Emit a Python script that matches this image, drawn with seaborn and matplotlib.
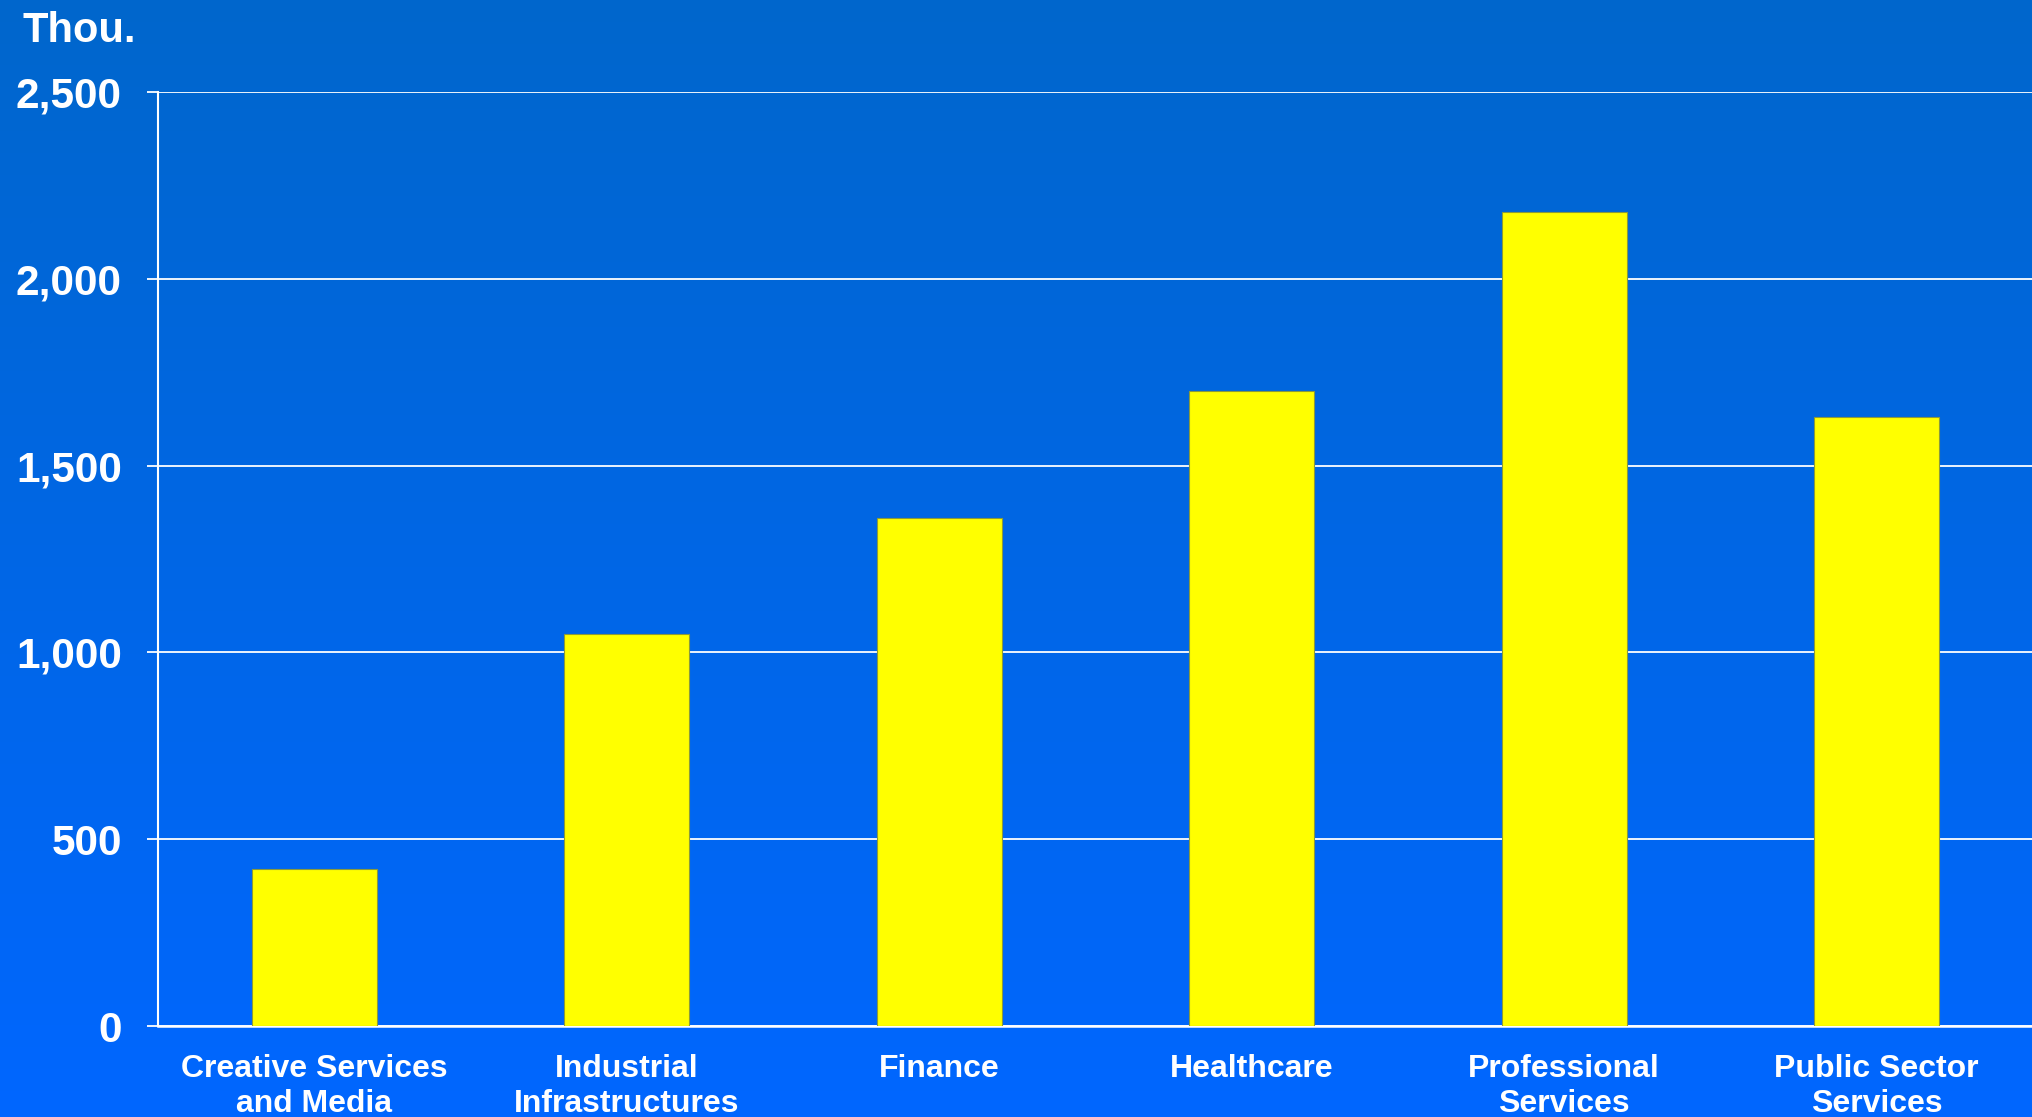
import numpy as np
import pandas as pd
import matplotlib
matplotlib.use("Agg")
import matplotlib.pyplot as plt
from matplotlib.colors import LinearSegmentedColormap
import seaborn as sns

categories = ["Creative Services\nand Media", "Industrial\nInfrastructures", "Finance",
              "Healthcare", "Professional\nServices", "Public Sector\nServices"]
values = [420, 1050, 1360, 1700, 2180, 1630]
y_ticks = [0, 500, 1000, 1500, 2000, 2500]
y_tick_labels = ["0", "500", "1,000", "1,500", "2,000", "2,500"]
unit_label = "Thou."

sns.set_theme(style="white")
plt.rcParams['font.family'] = ['Liberation Sans', 'DejaVu Sans']
plt.rcParams['font.weight'] = 'bold'

W, H, DPI = 2033, 1117, 100
fig = plt.figure(figsize=(W / DPI, H / DPI), dpi=DPI)

# gradient background
bg = fig.add_axes([0, 0, 1, 1], zorder=-10)
grad = np.linspace(0, 1, 256).reshape(-1, 1)
cmap = LinearSegmentedColormap.from_list("bg", ["#0066CC", "#0066FF"])
bg.imshow(grad, aspect="auto", cmap=cmap, extent=[0, 1, 0, 1], origin="upper")
bg.set_axis_off()

ax = fig.add_axes([158 / W, (H - 1026) / H, (W - 158) / W, (1026 - 92) / H])
ax.patch.set_alpha(0)

df = pd.DataFrame({"cat": categories, "val": values})
sns.barplot(data=df, x="cat", y="val", color="#FFFF00", width=0.4, ax=ax,
            saturation=1, edgecolor="#8a9a3a", linewidth=0.8, zorder=3)

ax.set_xlim(-0.5, len(categories) - 0.5)
ax.set_ylim(0, 2500)
ax.set_yticks(y_ticks)
ax.set_yticklabels(y_tick_labels)
ax.yaxis.grid(True, color="white", linewidth=1.3, zorder=0)
ax.set_axisbelow(True)
ax.set_xlabel("")
ax.set_ylabel("")

for side in ["top", "right"]:
    ax.spines[side].set_visible(False)
ax.spines["left"].set_color("white")
ax.spines["left"].set_linewidth(1.5)
ax.spines["bottom"].set_color("white")
ax.spines["bottom"].set_linewidth(1.8)

ax.tick_params(axis="y", which="both", left=True, length=8, width=1.3, color="white",
               labelcolor="white", labelsize=30.5, pad=18)
ax.tick_params(axis="x", bottom=False, labelcolor="white", labelsize=23, pad=14)
for lbl in ax.get_yticklabels() + ax.get_xticklabels():
    lbl.set_fontweight("bold")
for lbl in ax.get_xticklabels():
    lbl.set_linespacing(1.22)

fig.text(23 / W, 1 - 42 / H, unit_label, color="white", fontsize=30,
         fontweight="bold", ha="left", va="baseline")

fig.savefig("out.png", dpi=DPI)
